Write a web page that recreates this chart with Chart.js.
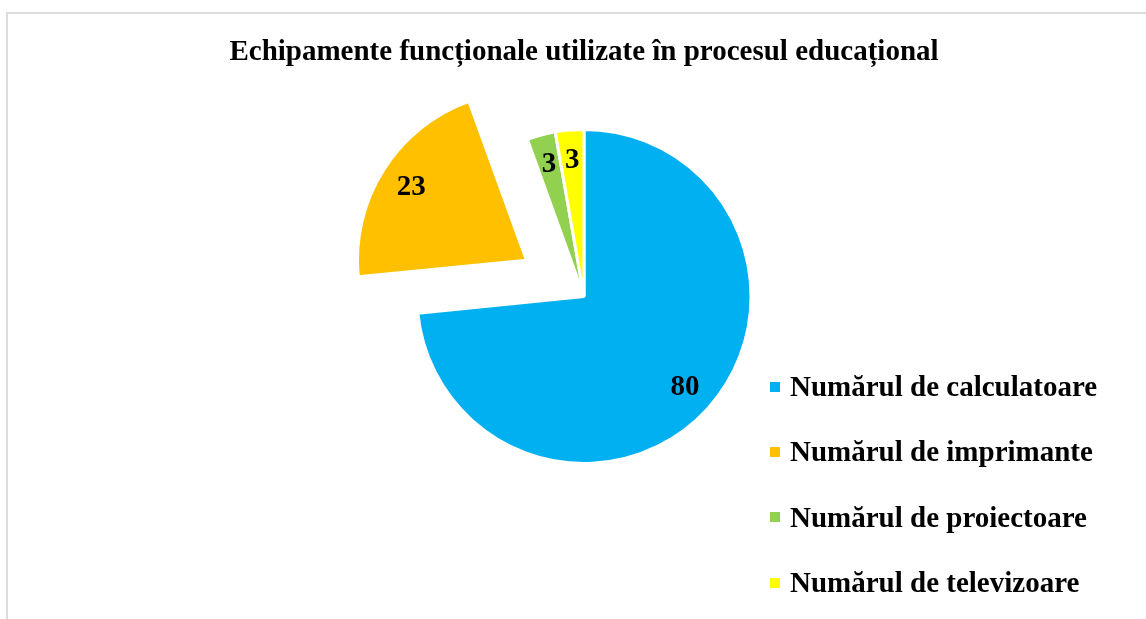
<!DOCTYPE html>
<html>
<head>
<meta charset="utf-8">
<title>Echipamente funcționale</title>
<script src="https://cdn.jsdelivr.net/npm/chart.js@4.4.1/dist/chart.umd.min.js"></script>
<style>
  body { margin: 0; background: #fff; overflow: hidden; }
  #frame {
    position: absolute; left: 6px; top: 12px; width: 1300px; height: 800px;
    border-left: 2px solid #dcdcdc; border-top: 2px solid #dcdcdc;
  }
  #chart { position: absolute; left: 0; top: 0; }
  #legend {
    position: absolute; left: 770px; top: 354px;
    font: bold 29px "Liberation Serif", "Times New Roman", serif; color: #000;
  }
  #legend .row { height: 65.3px; display: flex; align-items: center; white-space: nowrap; }
  #legend .box { width: 10px; height: 10px; margin-right: 10px; flex: none; }
</style>
</head>
<body>
<div id="frame"></div>
<canvas id="chart" width="1146" height="619"></canvas>
<div id="legend"></div>
<script>
const chartTitle = 'Echipamente funcționale utilizate în procesul educațional';
const categories = ['Numărul de calculatoare', 'Numărul de imprimante', 'Numărul de proiectoare', 'Numărul de televizoare'];
const counts = [80, 23, 3, 3];
const sliceColors = ['#00b0f0', '#ffc000', '#92d050', '#ffff00'];
// only the printers slice is pulled out of the pie
const sliceOffsets = [0, 272, 0, 0];

const serif = '"Liberation Serif", "Times New Roman", serif';

// value labels placed inside each slice, toward the rim
const sliceValues = {
  id: 'sliceValues',
  afterDatasetsDraw(chart) {
    const ctx = chart.ctx;
    const meta = chart.getDatasetMeta(0);
    ctx.save();
    ctx.font = 'bold 29px ' + serif;
    ctx.fillStyle = '#000';
    ctx.textAlign = 'center';
    ctx.textBaseline = 'middle';
    meta.data.forEach((arc, i) => {
      const p = arc.getProps(['x', 'y', 'startAngle', 'endAngle', 'outerRadius'], true);
      const mid = (p.startAngle + p.endAngle) / 2;
      const shift = (arc.options.offset || 0) / 4;
      const r = shift + p.outerRadius * 0.815;
      ctx.fillText(String(counts[i]), p.x + Math.cos(mid) * r, p.y + Math.sin(mid) * r);
    });
    ctx.restore();
  }
};

new Chart(document.getElementById('chart'), {
  type: 'pie',
  data: {
    labels: categories,
    datasets: [{
      data: counts,
      backgroundColor: sliceColors,
      borderColor: '#fff',
      borderWidth: 3,
      offset: sliceOffsets,
      radius: 167
    }]
  },
  options: {
    responsive: false,
    animation: false,
    layout: { padding: { left: 22, right: 0, top: 0, bottom: 105 } },
    plugins: {
      legend: { display: false },
      tooltip: { enabled: false },
      title: {
        display: true,
        text: chartTitle,
        color: '#000',
        font: { family: serif, size: 29, weight: 'bold' },
        padding: { top: 35, bottom: 9 }
      }
    }
  },
  plugins: [sliceValues]
});

// legend rows built from the same categories and colours
const legend = document.getElementById('legend');
categories.forEach((name, i) => {
  const row = document.createElement('div');
  row.className = 'row';
  const box = document.createElement('span');
  box.className = 'box';
  box.style.background = sliceColors[i];
  row.appendChild(box);
  row.appendChild(document.createTextNode(name));
  legend.appendChild(row);
});
</script>
</body>
</html>
